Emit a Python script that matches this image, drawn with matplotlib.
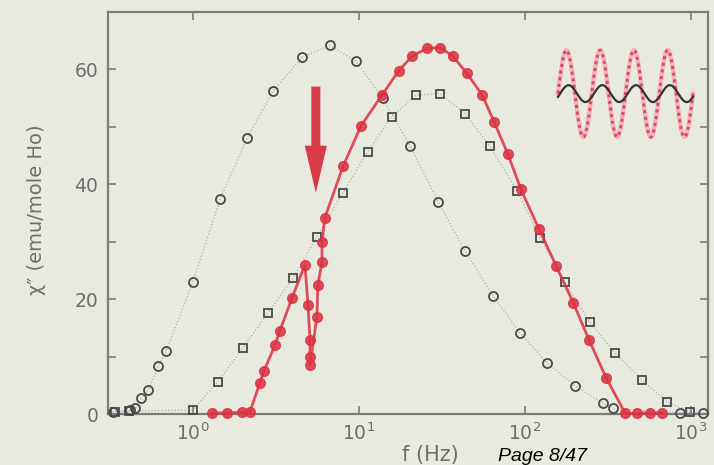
"""Imaginary susceptibility chi'' vs drive frequency, three sweeps, log frequency axis."""

import matplotlib

matplotlib.use("Agg")

import matplotlib.pyplot as plt
import numpy as np
from matplotlib.ticker import FixedLocator, MultipleLocator, NullLocator

# Open circles: reference sweep
f_circ = [0.33, 0.42, 0.45, 0.49, 0.54, 0.62, 0.69, 1.0, 1.46, 2.12, 3.03, 4.54, 6.69,
          9.59, 13.9, 20.3, 29.9, 43.5, 64.1, 93.3, 136, 200, 295, 339, 860, 1180]
chi_circ = [0.4, 0.7, 1.0, 2.8, 4.2, 8.4, 11.0, 23.0, 37.5, 48.0, 56.2, 62.1, 64.2,
            61.4, 55.0, 46.7, 37.0, 28.4, 20.6, 14.1, 8.9, 4.9, 1.9, 1.0, 0.2, 0.2]

# Open squares: second sweep
f_sq = [0.34, 0.41, 1.0, 1.41, 2.0, 2.83, 4.0, 5.58, 8.01, 11.3, 15.8, 22.0, 30.8,
        43.5, 61.5, 89.5, 123, 174, 246, 349, 507, 717, 990]
chi_sq = [0.4, 0.5, 0.7, 5.6, 11.5, 17.6, 23.7, 30.9, 38.5, 45.7, 51.8, 55.5, 55.8,
          52.3, 46.6, 38.9, 30.7, 22.9, 16.0, 10.6, 5.9, 2.1, 0.3]

# Filled red: sweep with the hole near 5 Hz
f_red = [1.30, 1.60, 1.97, 2.20, 2.53, 2.68, 3.12, 3.34, 3.95, 4.73, 4.93, 5.07, 5.07,
         5.07, 5.58, 5.66, 5.99, 5.99, 6.24, 8.01, 10.3, 13.8, 17.4, 20.9, 25.7, 30.8,
         36.8, 44.7, 55.1, 65.1, 79.0, 94.6, 121, 154, 195, 243, 308, 400, 473, 566, 669]
chi_red = [0.2, 0.2, 0.3, 0.3, 5.4, 7.5, 12.0, 14.5, 20.2, 26.0, 19.0, 12.9, 9.9,
           8.5, 16.9, 22.5, 26.5, 30.0, 34.2, 43.1, 50.2, 55.6, 59.8, 62.3, 63.7, 63.8,
           62.3, 59.3, 55.6, 50.9, 45.2, 39.1, 32.3, 25.8, 19.4, 12.9, 6.3, 0.2, 0.1, 0.2, 0.2]

# Arrow marking the burn frequency (f, chi top -> chi tip)
arrow_f = 5.5
arrow_from, arrow_to = 57.0, 38.5

BG = "#e9eadf"
GREY = "#6e6e6e"
DARK = "#4a4a4a"
RED = "#dc3242"

plt.rcParams["font.family"] = ["DejaVu Sans"]

fig = plt.figure(figsize=(7.14, 4.65), dpi=100, facecolor=BG)
ax = fig.add_axes([108 / 714, 1 - 414 / 465, 600 / 714, 402 / 465], facecolor=BG)

ax.set_xscale("log")
ax.set_xlim(0.308, 1265)
ax.set_ylim(0, 70)

# grey sweeps: thin dotted guide plus open markers
ax.plot(f_circ, chi_circ, ls=":", lw=0.9, color="#acacac", zorder=1)
ax.plot(f_circ, chi_circ, ls="none", marker="o", ms=6.5, mfc="none", mec=DARK,
        mew=1.3, zorder=3, clip_on=False)
ax.plot(f_sq, chi_sq, ls=":", lw=0.9, color="#acacac", zorder=1)
ax.plot(f_sq, chi_sq, ls="none", marker="s", ms=6, mfc="none", mec=DARK,
        mew=1.3, zorder=3, clip_on=False)

# red sweep
ax.plot(f_red, chi_red, ls="-", lw=2.0, color=RED, alpha=0.85, marker="o", ms=7,
        mfc=RED, mec=RED, zorder=4, clip_on=False)

ax.annotate(
    "", xy=(arrow_f, arrow_to), xytext=(arrow_f, arrow_from),
    arrowprops=dict(arrowstyle="simple,head_length=3.4,head_width=1.6,tail_width=0.65",
                    mutation_scale=10, color="#d93a48", shrinkA=0, shrinkB=0, lw=0),
    zorder=5,
)

# drive / response sketch in the upper right corner (axes fraction)
n_periods = 4
wave_x0, wave_x1 = 0.75, 0.975
wave_y, drive_amp, resp_amp = 0.797, 0.108, 0.021
t = np.linspace(0, 1, 400)
wx = wave_x0 + (wave_x1 - wave_x0) * t
phase = 2 * np.pi * n_periods * t
ax.plot(wx, wave_y + drive_amp * np.sin(phase), transform=ax.transAxes,
        color="#f2b4bc", lw=3.2, zorder=2)
ax.plot(wx, wave_y + drive_amp * np.sin(phase), transform=ax.transAxes,
        color="#de4a5c", lw=2.2, ls=(0, (1, 1.2)), zorder=2)
ax.plot(wx, wave_y + resp_amp * np.sin(phase - 0.4), transform=ax.transAxes,
        color="#333333", lw=1.6, zorder=3)

# axes frame and ticks
for side in ax.spines.values():
    side.set_color("#7c7c7c")
    side.set_linewidth(1.6)

ax.xaxis.set_major_locator(FixedLocator([1, 10, 100, 1000]))
ax.xaxis.set_minor_locator(NullLocator())
ax.yaxis.set_major_locator(MultipleLocator(20))
ax.yaxis.set_minor_locator(MultipleLocator(10))
ax.tick_params(which="both", direction="in", top=True, right=True, color="#7c7c7c",
               width=1.2, length=6, labelcolor=GREY, labelsize=13.5)
ax.tick_params(axis="y", pad=7)
ax.tick_params(axis="x", pad=6)
ax.set_xticklabels(["$10^{0}$", "$10^{1}$", "$10^{2}$", "$10^{3}$"])

fig.text(37 / 714, 1 - 210 / 465, "χ″ (emu/mole Ho)", rotation=90, ha="center",
         va="center", color=GREY, fontsize=14)
fig.text(430 / 714, 1 - 455 / 465, "f (Hz)", ha="center", va="center", color=GREY,
         fontsize=15)
fig.text(543 / 714, 1 - 461 / 465, "Page 8/47", ha="center", va="baseline",
         fontsize=14, style="italic", family=["Liberation Sans", "DejaVu Sans"],
         color="black")

fig.savefig("out.png", dpi=100, facecolor=BG)
